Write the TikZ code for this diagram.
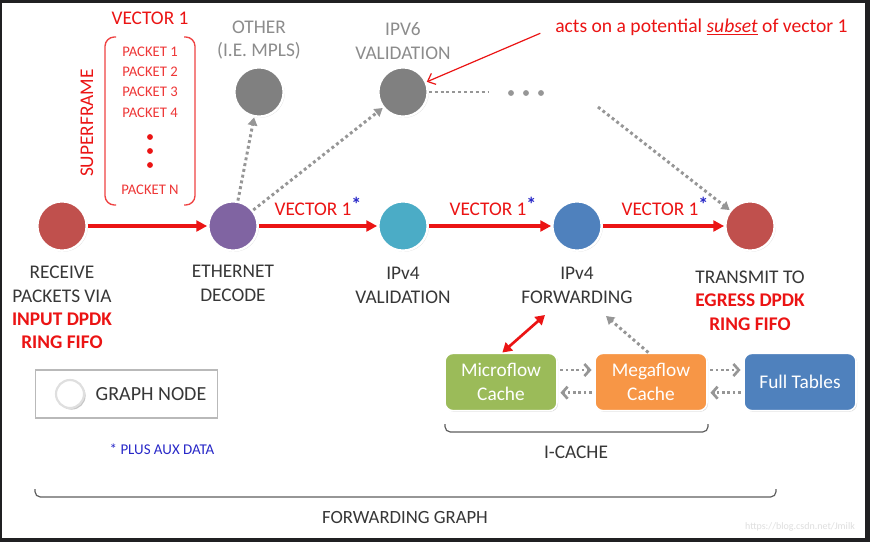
\documentclass[tikz,border=0pt]{standalone}
\usepackage{fontspec}
\setmainfont{Carlito}
\usetikzlibrary{arrows.meta,positioning,shadows}
\definecolor{nodered}{RGB}{192,80,77}
\definecolor{nodepurple}{RGB}{128,100,162}
\definecolor{nodeteal}{RGB}{75,172,198}
\definecolor{nodeblue}{RGB}{79,129,189}
\definecolor{nodegray}{RGB}{128,128,128}
\definecolor{cachegreen}{RGB}{155,187,89}
\definecolor{cacheorange}{RGB}{247,150,70}
\definecolor{labelgray}{RGB}{55,55,55}
\definecolor{lightlabel}{RGB}{140,140,140}
\definecolor{vecred}{RGB}{235,20,20}
\definecolor{auxblue}{RGB}{40,40,200}
\definecolor{dotgray}{RGB}{150,150,150}
\definecolor{framedark}{RGB}{32,32,34}
\newcommand{\auxstar}{\raisebox{3pt}{\fontsize{15}{15}\selectfont\bfseries\textcolor{auxblue}{*}}}
\tikzset{
  graph node/.style={
    circle, fill=#1, draw=white, line width=1.8pt,
    minimum size=37pt, inner sep=0pt,
    drop shadow={shadow xshift=0.8pt, shadow yshift=-0.8pt, opacity=0.3}
  },
  circle label/.style={
    align=center, inner sep=0pt, text=labelgray,
    font=\fontsize{14.5}{17.5}\selectfont
  },
  upper label/.style={circle label, text=lightlabel},
  packet text/.style={text=vecred!85, inner sep=0pt, font=\fontsize{11}{13}\selectfont},
  vector label/.style={text=vecred, inner sep=0pt, font=\fontsize{14.5}{17}\selectfont},
  vector arrow/.style={-{Triangle[length=8pt,width=8pt]}, line width=2.6pt, vecred},
  flow dots/.style={
    dotgray, line width=2.2pt, dash pattern=on 2.2pt off 2.2pt,
    -{Triangle[length=6pt,width=7pt]}
  },
  cache dots/.style={
    dotgray, line width=2pt, dash pattern=on 2pt off 2pt,
    -{Straight Barb[length=4pt,width=9pt]}, shorten <=2pt, shorten >=2pt
  },
  cache box/.style={
    rectangle, rounded corners=6pt, fill=#1, draw=white, line width=1.2pt,
    minimum width=84pt, minimum height=43pt, text=white, align=center,
    font=\fontsize{14.5}{18}\selectfont,
    drop shadow={shadow xshift=0.8pt, shadow yshift=-0.8pt, opacity=0.3}
  },
  brace line/.style={draw=labelgray!80, line width=0.9pt, rounded corners=4pt}
}

\begin{document}
\begin{tikzpicture}[x=0.75pt, y=-0.75pt]
    % screenshot frame
    \fill[framedark] (0,0) rectangle (870,542);
    \fill[white] (2,3) rectangle (865,538);

    % graph nodes
    \node[graph node=nodered] (receive) at (62,226) {};
    \node[graph node=nodepurple] (ethernet) at (233,226) {};
    \node[graph node=nodeteal] (ipvfour) at (403,226) {};
    \node[graph node=nodeblue] (forward) at (577,226) {};
    \node[graph node=nodered] (transmit) at (750,226) {};
    \node[graph node=nodegray] (other) at (259,92) {};
    \node[graph node=nodegray] (ipvsix) at (403,92) {};

    \node[circle label, below=10.5pt of receive] (receivelbl) {RECEIVE\\PACKETS VIA\\
      \textcolor{vecred}{\bfseries INPUT DPDK}\\\textcolor{vecred}{\bfseries RING FIFO}};
    \node[circle label, below=10pt of ethernet] (ethernetlbl) {ETHERNET\\DECODE};
    \node[circle label, below=11.5pt of ipvfour] (ipvfourlbl) {IPv4\\VALIDATION};
    \node[circle label, below=11.5pt of forward] (forwardlbl) {IPv4\\FORWARDING};
    \node[circle label, below=14pt of transmit] (transmitlbl) {TRANSMIT TO\\
      \textcolor{vecred}{\bfseries EGRESS DPDK}\\\textcolor{vecred}{\bfseries RING FIFO}};
    \node[upper label, above=5pt of other] (otherlbl) {OTHER\\(I.E. MPLS)};
    \node[upper label, above=5pt of ipvsix] (ipvsixlbl) {IPV6\\VALIDATION};

    % vector 1 superframe
    \node[vector label] (vectorone) at (150,18) {VECTOR 1};
    \node[vector label, rotate=90] (superframe) at (87,123) {SUPERFRAME};
    \foreach \i/\y in {1/52,2/72,3/92,4/113}
      \node[packet text] (packet\i) at (150,\y) {PACKET \i};
    \node[packet text] (packetn) at (150,190) {PACKET N};
    \foreach \y in {137,151,165}
      \fill[vecred] (150,\y) circle (2.2pt);
    \draw[vecred!80, line width=1pt, rounded corners=7pt] (116,37) -- (105,37) -- (105,205) -- (116,205);
    \draw[vecred!80, line width=1pt, rounded corners=7pt] (184,37) -- (195,37) -- (195,205) -- (184,205);

    % main path
    \draw[vector arrow] (receive) -- (ethernet);
    \draw[vector arrow] (ethernet) -- (ipvfour);
    \draw[vector arrow] (ipvfour) -- (forward);
    \draw[vector arrow] (forward) -- (transmit);
    \node[vector label] (vecA) at (318,206) {VECTOR 1\auxstar};
    \node[vector label] (vecB) at (493,206) {VECTOR 1\auxstar};
    \node[vector label] (vecC) at (665,206) {VECTOR 1\auxstar};

    % branches
    \draw[flow dots] (ethernet) -- (other);
    \draw[flow dots] (ethernet) -- (ipvsix);
    \coordinate (sixend) at (488,92);
    \coordinate (dotsend) at (598,107);
    \draw[flow dots, -] (ipvsix) -- (sixend);
    \foreach \x in {511,526,541}
      \fill[dotgray] (\x,93) circle (2.2pt);
    \draw[flow dots] (dotsend) -- (transmit);

    % note
    \node[text=vecred, inner sep=0pt, anchor=west, font=\fontsize{14.7}{17}\selectfont] (note) at (555,27)
      {acts on a potential \underline{\textit{subset}} of vector 1};
    \draw[vecred, line width=0.9pt, -{Straight Barb[length=5pt,width=9pt]}, shorten <=12pt] (note.west) -- (ipvsix);

    % caches
    \node[cache box=cachegreen] (micro) at (501,382) {Microflow\\Cache};
    \node[cache box=cacheorange] (mega) at (651,382) {Megaflow\\Cache};
    \node[cache box=nodeblue] (fulltab) at (800,382) {Full Tables};
    \draw[cache dots] ([yshift=9pt]micro.east) -- ([yshift=9pt]mega.west);
    \draw[cache dots] ([yshift=-8pt]mega.west) -- ([yshift=-8pt]micro.east);
    \draw[cache dots] ([yshift=9pt]mega.east) -- ([yshift=9pt]fulltab.west);
    \draw[cache dots] ([yshift=-8pt]fulltab.west) -- ([yshift=-8pt]mega.east);
    \coordinate (fwdpoint) at (545,315);
    \coordinate (megapoint) at (606,316);
    \draw[vecred, line width=2pt, {Triangle[length=7pt,width=8pt]}-{Triangle[length=7pt,width=8pt]}]
      ([xshift=1pt]micro.north) -- (fwdpoint);
    \draw[flow dots] ([xshift=-2pt]mega.north) -- (megapoint);

    % legend
    \node[draw=gray!55, line width=0.8pt, minimum width=137pt, minimum height=36pt] (legend) at (126.5,394) {};
    \node[circle, fill=white, draw=gray!25, line width=1.6pt, minimum size=21pt,
      drop shadow={shadow xshift=1.2pt, shadow yshift=-1.2pt, opacity=0.45}] (legendring) at (70,394) {};
    \node[circle label, font=\fontsize{15}{17}\selectfont] (legendtxt) at (151,394) {GRAPH NODE};
    \node[text=auxblue, inner sep=0pt, font=\fontsize{11.2}{13}\selectfont] (auxnote) at (162,449) {* PLUS AUX DATA};

    % braces
    \draw[brace line] (445,424) -- (445,432) -- (708,432) -- (708,424);
    \node[circle label] (icache) at (576,452) {I-CACHE};
    \draw[brace line] (35,489) -- (35,497) -- (776,497) -- (776,489);
    \node[circle label, font=\fontsize{14}{16}\selectfont] (fwdgraph) at (405,518) {FORWARDING GRAPH};
    \node[text=gray!25, inner sep=0pt, font=\fontsize{7.5}{9}\selectfont] (mark) at (800,527) {https://blog.csdn.net/Jmilk};
  \end{tikzpicture}
\end{document}
